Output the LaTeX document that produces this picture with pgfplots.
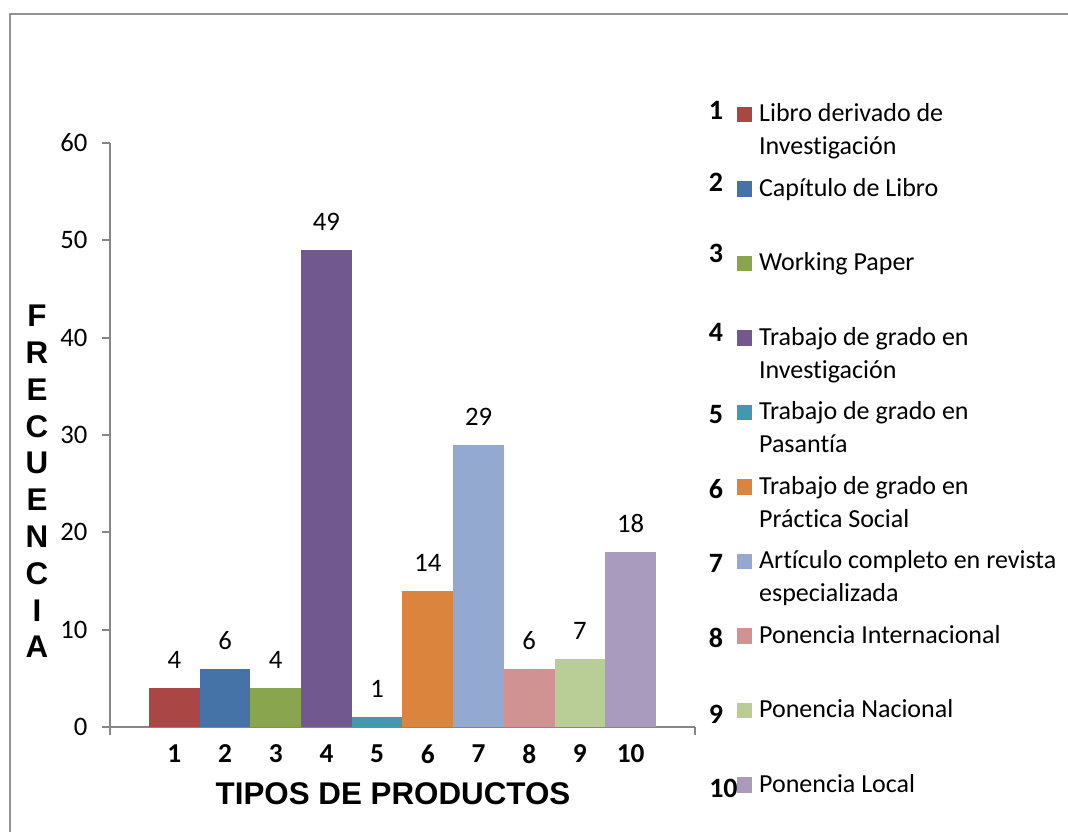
\documentclass[border=0pt]{standalone}
\usepackage{pgfplots}
\pgfplotsset{compat=1.18}
\usepackage{fontspec}
\setmainfont{Carlito}[Ligatures=NoCommon]
\newfontfamily\lsans{Liberation Sans}
\definecolor{c1}{HTML}{AA4643}
\definecolor{c2}{HTML}{4572A7}
\definecolor{c3}{HTML}{89A54E}
\definecolor{c4}{HTML}{71588F}
\definecolor{c5}{HTML}{4198AF}
\definecolor{c6}{HTML}{DB843D}
\definecolor{c7}{HTML}{93A9CF}
\definecolor{c8}{HTML}{D19392}
\definecolor{c9}{HTML}{B9CD96}
\definecolor{c10}{HTML}{A99BBD}
\definecolor{axgray}{HTML}{868686}
\newcommand\legtext[1]{\parbox[t]{330pt}{\fontsize{19.5}{24.75}\selectfont\strut #1}}
\begin{document}
\begin{tikzpicture}
\useasboundingbox (0,0) rectangle (801pt,624pt);
\draw[axgray!90, line width=1.5pt] (7.5pt,-10pt) -- (7.5pt,613.5pt) -- (820pt,613.5pt);
\begin{axis}[
  at={(82.5pt,78.75pt)}, anchor=south west,
  scale only axis, width=438.75pt, height=438pt,
  ybar,
  xmin=-0.269, xmax=11.27, ymin=0, ymax=60,
  axis x line*=bottom, axis y line*=left,
  axis line style={axgray, line width=1.5pt},
  every tick/.style={axgray, line width=1.5pt},
  tick align=outside, major tick length=6pt,
  ytick={0,10,...,60},
  xtick={-0.269,11.27}, xticklabels={},
  extra x ticks={1,2,3,4,5,6,7,8,9,10},
  extra x tick labels={1,2,3,4,5,6,7,8,9,10},
  extra x tick style={major tick length=0pt, tick label style={anchor=center, yshift=-20.25pt, font=\fontsize{20.5}{24}\selectfont\bfseries}},
  /pgf/number format/assume math mode=true,
  yticklabel style={font=\fontsize{20}{24}\selectfont, xshift=-7.5pt},
  nodes near coords,
  nodes near coords style={font=\fontsize{20}{24}\selectfont, anchor=center, yshift=21pt, black},
  xlabel={TIPOS DE PRODUCTOS},
  xlabel style={font=\lsans\bfseries\fontsize{23.5}{28}\selectfont, at={(axis description cs:0.4838,-0.1147)}, anchor=center},
  ylabel={F\\R\\E\\C\\U\\E\\N\\C\\I\\A},
  ylabel style={rotate=-90, align=center, font=\lsans\bfseries\fontsize{23.5}{27.6}\selectfont, at={(axis description cs:-0.1248,0.4204)}, anchor=center},
  clip=false,
  legend style={at={(1.0718,1.076)}, anchor=north west, draw=none, fill=none, inner sep=0pt, outer sep=0pt, row sep=0pt, column sep=5pt, nodes={inner sep=0pt, outer sep=0pt, anchor=base west, text height=17.3pt, text depth=38.6pt}},
  legend cell align=left,
  legend image code/.code={\fill[#1] (0pt,-0.3pt) rectangle (11.6pt,11.3pt);},
]
\addplot[bar shift=0pt, bar width=1, fill=c1, draw=none] coordinates {(1,4)};
\addlegendentry{\legtext{Libro derivado de\\Investigación}}
\addplot[bar shift=0pt, bar width=1, fill=c2, draw=none] coordinates {(2,6)};
\addlegendentry{\legtext{Capítulo de Libro}}
\addplot[bar shift=0pt, bar width=1, fill=c3, draw=none] coordinates {(3,4)};
\addlegendentry{\legtext{Working Paper}}
\addplot[bar shift=0pt, bar width=1, fill=c4, draw=none] coordinates {(4,49)};
\addlegendentry{\legtext{Trabajo de grado en\\Investigación}}
\addplot[bar shift=0pt, bar width=1, fill=c5, draw=none] coordinates {(5,1)};
\addlegendentry{\legtext{Trabajo de grado en\\Pasantía}}
\addplot[bar shift=0pt, bar width=1, fill=c6, draw=none] coordinates {(6,14)};
\addlegendentry{\legtext{Trabajo de grado en\\Práctica Social}}
\addplot[bar shift=0pt, bar width=1, fill=c7, draw=none] coordinates {(7,29)};
\addlegendentry{\legtext{Artículo completo en revista\\especializada}}
\addplot[bar shift=0pt, bar width=1, fill=c8, draw=none] coordinates {(8,6)};
\addlegendentry{\legtext{Ponencia Internacional}}
\addplot[bar shift=0pt, bar width=1, fill=c9, draw=none] coordinates {(9,7)};
\addlegendentry{\legtext{Ponencia Nacional}}
\addplot[bar shift=0pt, bar width=1, fill=c10, draw=none] coordinates {(10,18)};
\addlegendentry{\legtext{Ponencia Local}}
\end{axis}
\begin{scope}[every node/.style={font=\fontsize{21}{24}\selectfont\bfseries, anchor=center}]
\node at (537pt,541.5pt) {1};
\node at (537pt,487.5pt) {2};
\node at (537pt,434.25pt) {3};
\node at (537pt,375pt) {4};
\node at (537pt,312.75pt) {5};
\node at (537pt,257.25pt) {6};
\node at (537pt,201.75pt) {7};
\node at (537pt,145.5pt) {8};
\node at (537pt,88.5pt) {9};
\node at (542.6pt,33pt) {10};
\end{scope}
\end{tikzpicture}
\end{document}
